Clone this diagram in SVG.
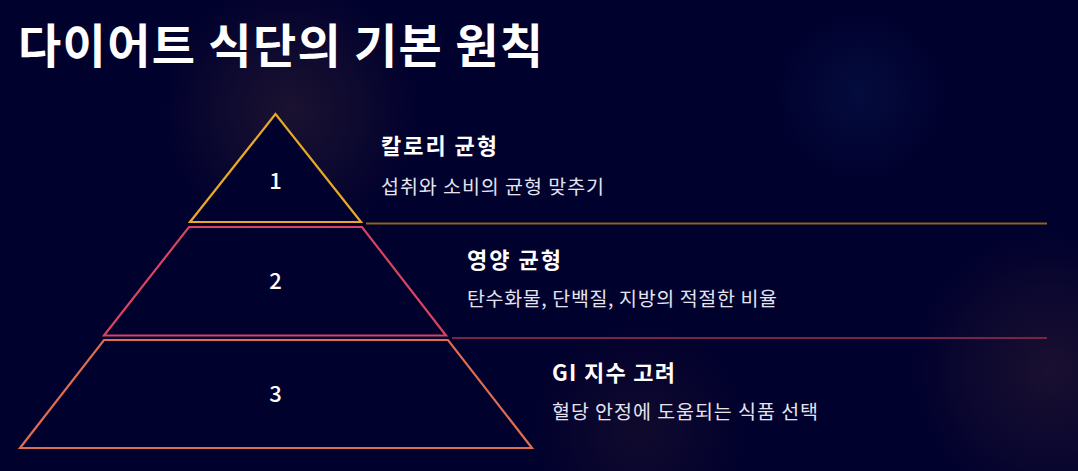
<svg xmlns="http://www.w3.org/2000/svg" width="1078" height="471" viewBox="0 0 1078 471">
  <defs>
    <radialGradient id="g1" cx="290" cy="110" r="130" gradientUnits="userSpaceOnUse">
      <stop offset="0" stop-color="#1e1430" stop-opacity="0.9"/>
      <stop offset="1" stop-color="#1e1430" stop-opacity="0"/>
    </radialGradient>
    <radialGradient id="g2" cx="860" cy="95" r="85" gradientUnits="userSpaceOnUse">
      <stop offset="0" stop-color="#061448" stop-opacity="0.6"/>
      <stop offset="1" stop-color="#061448" stop-opacity="0"/>
    </radialGradient>
    <radialGradient id="g3" cx="1050" cy="370" r="140" gradientUnits="userSpaceOnUse">
      <stop offset="0" stop-color="#1a1030" stop-opacity="1"/>
      <stop offset="1" stop-color="#1a1030" stop-opacity="0"/>
    </radialGradient>
    <radialGradient id="g4" cx="640" cy="430" r="110" gradientUnits="userSpaceOnUse">
      <stop offset="0" stop-color="#140c2c" stop-opacity="0.8"/>
      <stop offset="1" stop-color="#140c2c" stop-opacity="0"/>
    </radialGradient>
  </defs>
  <style>
    text { font-family: "Noto Sans CJK KR", "Noto Sans", sans-serif; }
    .title { font-size: 47px; font-weight: 700; fill: #ffffff; }
    .num { font-size: 22px; font-weight: 500; fill: #ffffff; text-anchor: middle; }
    .head { font-size: 22px; font-weight: 700; fill: #ffffff; }
    .sub { font-size: 19.5px; font-weight: 400; fill: #e4e4ee; }
    .shape { fill: #01012e; stroke-width: 2.2; stroke-linejoin: miter; }
    .sep { stroke-width: 2; }
  </style>
  <rect x="0" y="0" width="1078" height="471" fill="#01012e"/>
  <rect x="0" y="0" width="1078" height="471" fill="url(#g1)"/>
  <rect x="0" y="0" width="1078" height="471" fill="url(#g2)"/>
  <rect x="0" y="0" width="1078" height="471" fill="url(#g3)"/>
  <rect x="0" y="0" width="1078" height="471" fill="url(#g4)"/>

  <text id="title" class="title" x="18" y="63" textLength="525" lengthAdjust="spacing">다이어트 식단의 기본 원칙</text>

  <g id="connectors">
    <line class="sep" x1="366" y1="223.5" x2="1047" y2="223.5" stroke="#8b6325"/>
    <line class="sep" x1="452" y1="338" x2="1047" y2="338" stroke="#7a2445"/>
  </g>

  <g id="level1">
    <polygon class="shape" points="275.5,114 190,222 361,222" stroke="#e8a826"/>
    <text class="num" x="275.5" y="189">1</text>
    <text class="head" x="381" y="154" textLength="116" lengthAdjust="spacing">칼로리 균형</text>
    <text class="sub" x="381" y="194" textLength="223" lengthAdjust="spacing">섭취와 소비의 균형 맞추기</text>
  </g>

  <g id="level2">
    <polygon class="shape" points="189,227 362,227 446,335.5 104,335.5" stroke="#d9435f"/>
    <text class="num" x="275.5" y="289">2</text>
    <text class="head" x="467" y="268" textLength="94" lengthAdjust="spacing">영양 균형</text>
    <text class="sub" x="467" y="306" textLength="310" lengthAdjust="spacing">탄수화물, 단백질, 지방의 적절한 비율</text>
  </g>

  <g id="level3">
    <polygon class="shape" points="104,340 448,340 532,448 20,448" stroke="#e06c4f"/>
    <text class="num" x="275.5" y="402">3</text>
    <text class="head" x="552" y="381" textLength="123" lengthAdjust="spacing">GI 지수 고려</text>
    <text class="sub" x="552" y="419" textLength="266" lengthAdjust="spacing">혈당 안정에 도움되는 식품 선택</text>
  </g>
</svg>
